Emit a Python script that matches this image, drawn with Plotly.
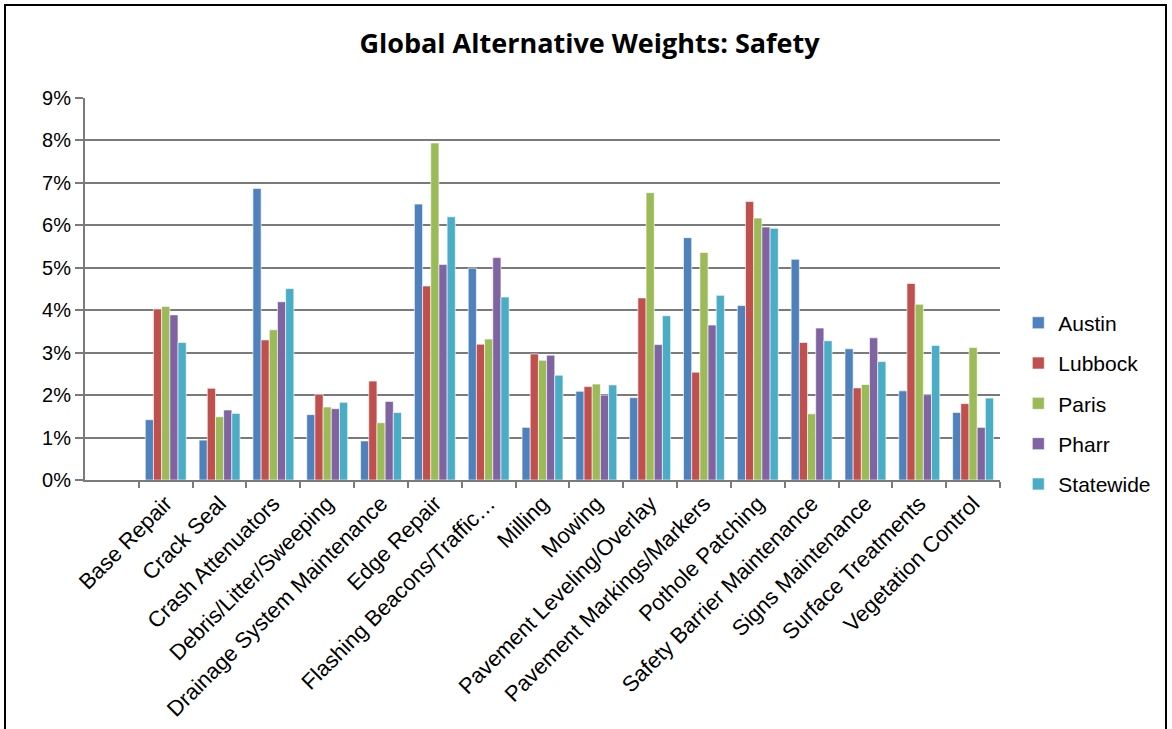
import plotly.graph_objects as go

categories = ["Base Repair", "Crack Seal", "Crash Attenuators", "Debris/Litter/Sweeping",
              "Drainage System Maintenance", "Edge Repair", "Flashing Beacons/Traffic…",
              "Milling", "Mowing", "Pavement Leveling/Overlay", "Pavement Markings/Markers",
              "Pothole Patching", "Safety Barrier Maintenance", "Signs Maintenance",
              "Surface Treatments", "Vegetation Control"]

austin    = [1.42, 0.94, 6.87, 1.54, 0.92, 6.50, 4.99, 1.24, 2.09, 1.94, 5.71, 4.11, 5.20, 3.09, 2.10, 1.59]
lubbock   = [4.03, 2.16, 3.30, 2.02, 2.33, 4.57, 3.20, 2.97, 2.20, 4.29, 2.54, 6.56, 3.24, 2.17, 4.63, 1.80]
paris     = [4.09, 1.49, 3.54, 1.72, 1.35, 7.94, 3.32, 2.82, 2.26, 6.77, 5.36, 6.17, 1.56, 2.25, 4.14, 3.12]
pharr     = [3.89, 1.65, 4.20, 1.68, 1.85, 5.08, 5.24, 2.94, 2.00, 3.19, 3.65, 5.96, 3.58, 3.35, 2.01, 1.24]
statewide = [3.24, 1.57, 4.51, 1.83, 1.59, 6.20, 4.31, 2.47, 2.24, 3.87, 4.35, 5.93, 3.28, 2.79, 3.17, 1.93]

series = [("Austin", austin, "#4F81BD"), ("Lubbock", lubbock, "#C0504D"),
          ("Paris", paris, "#9BBB59"), ("Pharr", pharr, "#8064A2"),
          ("Statewide", statewide, "#4BACC6")]

fig = go.Figure()
for name, vals, col in series:
    fig.add_trace(go.Bar(
        x=categories, y=[v / 100 for v in vals], name=name, legendgroup=name,
        marker=dict(color=col, line=dict(color="rgba(255,255,255,0.6)", width=1)),
    ))

grid = "#7a7a7a"
fig.update_layout(
    width=1172, height=729,
    margin=dict(l=85, r=172, t=98, b=249),
    paper_bgcolor="white", plot_bgcolor="white",
    barmode="group", bargap=0.24, bargroupgap=0,
    font=dict(family="Liberation Sans, Arial", size=20, color="black"),
    title=dict(text="<b>Global Alternative Weights: Safety</b>", x=0.503, xanchor="center",
               y=0.94, yanchor="middle",
               font=dict(family="Open Sans", size=27, color="black")),
    legend=dict(x=1.02, xanchor="left", y=0.2, yanchor="middle",
                font=dict(size=21), tracegroupgap=10, itemwidth=30),
    xaxis=dict(type="category", range=[-1.5, 15.5], tickangle=-45, automargin=False,
               tickson="boundaries", ticks="outside", ticklen=6, tickwidth=2, tickcolor=grid,
               showline=True, linecolor=grid, linewidth=2, showgrid=False,
               tickfont=dict(size=22)),
    yaxis=dict(range=[0, 0.09], dtick=0.01, tickformat=".0%", showgrid=True, automargin=False,
               gridcolor=grid, gridwidth=2, showline=True, linecolor=grid, linewidth=2,
               ticks="outside", ticklen=8, tickwidth=2, tickcolor=grid, zeroline=False,
               tickfont=dict(size=20)),
)

# outer frame
fig.add_shape(type="rect", xref="paper", yref="paper",
              x0=(5 - 85) / 915, x1=(1166 - 85) / 915,
              y0=(480 - 740) / 382, y1=(480 - 5) / 382,
              line=dict(color="black", width=2), fillcolor="rgba(0,0,0,0)", layer="below")

fig.write_html("out.html")
